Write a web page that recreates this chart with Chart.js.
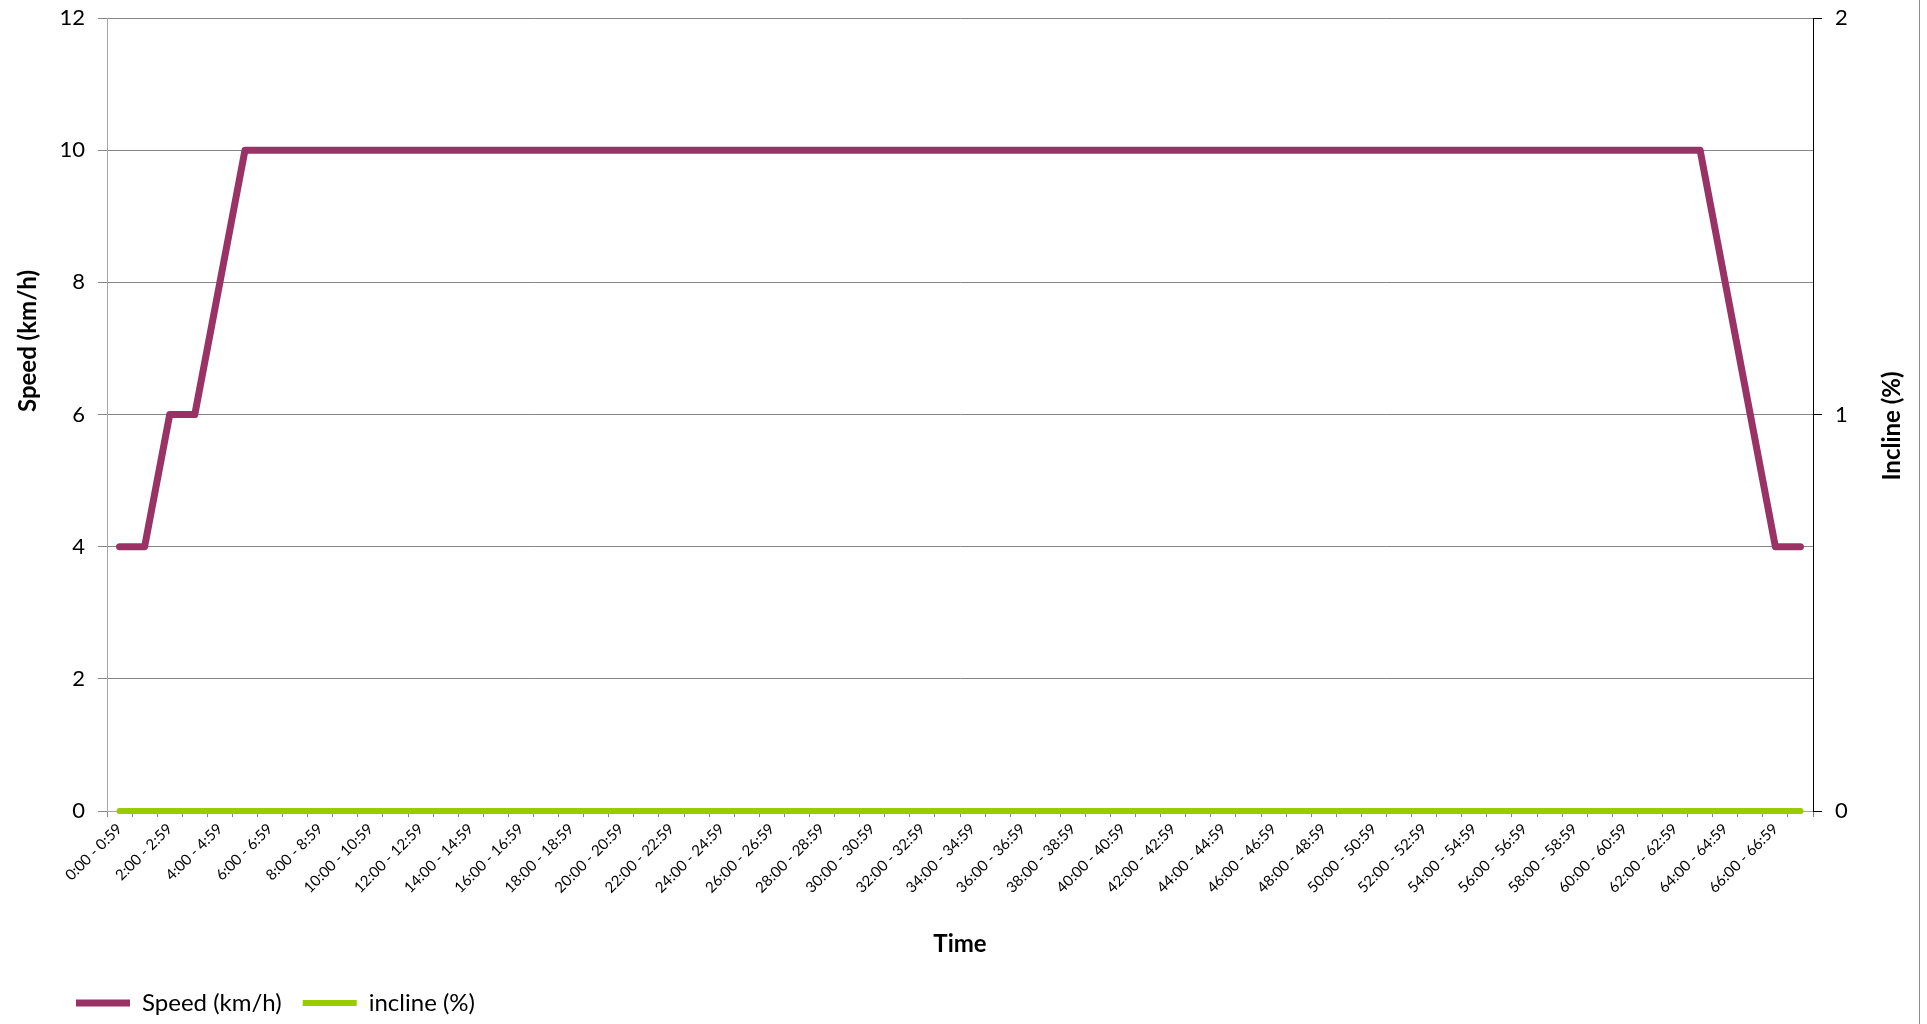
<!DOCTYPE html>
<html lang="en">
  <head>
    <meta charset="utf-8" />
    <title>Speed and incline</title>
    <script src="https://cdn.jsdelivr.net/npm/chart.js@4/dist/chart.umd.min.js"></script>
    <style>
      html, body { margin: 0; padding: 0; background: #fff; }
      .frame {
        width: 1919px;
        height: 1024px;
        border-right: 1px solid #8c8c8c;
      }
    </style>
  </head>
  <body>
    <div class="frame">
      <canvas id="lineChart" width="1919" height="1024"></canvas>
    </div>
    <script>
      // one minute per interval, 68 intervals
      const timeLabels = Array.from(Array(68), (_, i) => i + ":00 - " + i + ":59");

      // speed in km/h for each interval
      const speed = [
        4, 4, 6, 6, 8, 10, 10, 10, 10, 10,
        10, 10, 10, 10, 10, 10, 10, 10, 10, 10,
        10, 10, 10, 10, 10, 10, 10, 10, 10, 10,
        10, 10, 10, 10, 10, 10, 10, 10, 10, 10,
        10, 10, 10, 10, 10, 10, 10, 10, 10, 10,
        10, 10, 10, 10, 10, 10, 10, 10, 10, 10,
        10, 10, 10, 10, 8, 6, 4, 4,
      ];

      // incline in % for each interval
      const incline = [
        0, 0, 0, 0, 0, 0, 0, 0, 0, 0,
        0, 0, 0, 0, 0, 0, 0, 0, 0, 0,
        0, 0, 0, 0, 0, 0, 0, 0, 0, 0,
        0, 0, 0, 0, 0, 0, 0, 0, 0, 0,
        0, 0, 0, 0, 0, 0, 0, 0, 0, 0,
        0, 0, 0, 0, 0, 0, 0, 0, 0, 0,
        0, 0, 0, 0, 0, 0, 0, 0,
      ];

      const speedTitle = "Speed (km/h)";
      const inclineTitle = "Incline (%)";

      Chart.defaults.font.family = "Lato, 'Open Sans', sans-serif";
      Chart.defaults.color = "#000";

      // y axis titles, both read bottom to top
      const sideTitles = {
        id: "sideTitles",
        afterDraw(chart) {
          const ctx = chart.ctx;
          ctx.save();
          ctx.font = "bold 24px Lato, sans-serif";
          ctx.fillStyle = "#000";
          ctx.textAlign = "center";
          ctx.textBaseline = "middle";
          [[speedTitle, 28, 341], [inclineTitle, 1892, 426]].forEach(([text, x, y]) => {
            ctx.save();
            ctx.translate(x, y);
            ctx.rotate(-Math.PI / 2);
            ctx.fillText(text, 0, 0);
            ctx.restore();
          });
          ctx.restore();
        },
      };

      // fixed width, and no extra room above/below for the end labels
      const fixWidth = (w) => (scale) => {
        scale.width = w;
        scale.paddingTop = 0;
        scale.paddingBottom = 0;
      };

      const ctx = document.getElementById("lineChart").getContext("2d");
      const chart = new Chart(ctx, {
        type: "line",
        plugins: [sideTitles],
        data: {
          labels: timeLabels,
          datasets: [
            {
              label: "Speed (km/h)",
              data: speed,
              yAxisID: "y",
              borderColor: "#993366",
              backgroundColor: "#993366",
              borderWidth: 7,
              borderCapStyle: "round",
              borderJoinStyle: "round",
              pointRadius: 0,
              tension: 0,
              fill: false,
              clip: false,
            },
            {
              label: "incline (%)",
              data: incline,
              yAxisID: "y1",
              borderColor: "#99cc00",
              backgroundColor: "#99cc00",
              borderWidth: 6,
              borderCapStyle: "round",
              borderJoinStyle: "round",
              pointRadius: 0,
              tension: 0,
              fill: false,
              clip: false,
            },
          ],
        },
        options: {
          responsive: false,
          animation: false,
          layout: { padding: { left: 55, top: 18, right: 0, bottom: -1 } },
          plugins: {
            tooltip: { enabled: false },
            legend: {
              position: "bottom",
              align: "start",
              labels: {
                usePointStyle: true,
                pointStyle: "line",
                pointStyleWidth: 54,
                padding: 21,
                font: { size: 24 },
                color: "#000",
              },
            },
          },
          scales: {
            x: {
              offset: true,
              afterFit(scale) { scale.height = 159; },
              grid: {
                offset: true,
                drawOnChartArea: false,
                color: "#868686",
                tickLength: 6,
              },
              border: { color: "#a6a6a6" },
              ticks: {
                autoSkip: false,
                minRotation: 45,
                maxRotation: 45,
                font: { size: 15 },
                callback(value, index) {
                  return index % 2 === 0 ? this.getLabelForValue(value) : "";
                },
              },
              title: {
                display: true,
                text: "Time",
                font: { size: 24, weight: "bold" },
                padding: { top: 0, bottom: 11 },
              },
            },
            y: {
              position: "left",
              min: 0,
              max: 12,
              afterFit: fixWidth(52),
              grid: { color: "#868686", tickLength: 9 },
              border: { color: "#a6a6a6" },
              ticks: { stepSize: 2, padding: 13, font: { size: 22 } },
            },
            y1: {
              position: "right",
              min: 0,
              max: 2,
              afterFit: fixWidth(106),
              grid: { drawOnChartArea: false, color: "#000", tickLength: 9 },
              border: { color: "#000" },
              ticks: { stepSize: 1, padding: 13, font: { size: 22 } },
            },
          },
        },
      });
    </script>
  </body>
</html>
